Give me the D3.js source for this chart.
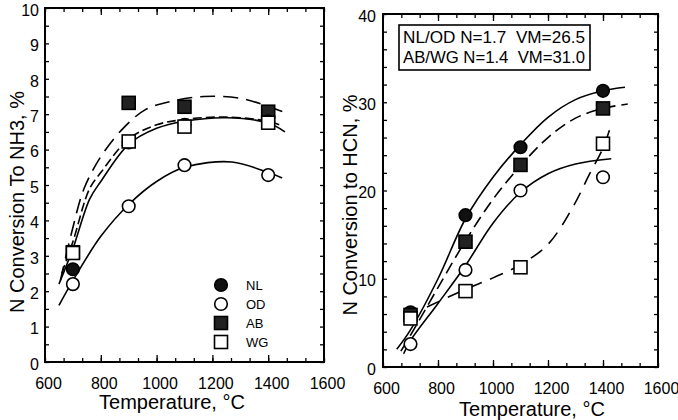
<!DOCTYPE html>
<html>
<head>
<meta charset="utf-8">
<script src="https://cdn.jsdelivr.net/npm/d3@7"></script>
<style>
  body { margin: 0; background: #fff; }
  text { font-family: "Liberation Sans", Arial, sans-serif; fill: #000; }
</style>
</head>
<body>
<script>
// sample temperatures, degC
var temps = [700, 900, 1100, 1400];

// left panel: N conversion to NH3, %
var nh3NL = [2.62, 6.2, 6.7, 6.8];
var nh3OD = [2.2, 4.4, 5.56, 5.28];
var nh3AB = [3.1, 7.32, 7.21, 7.07];
var nh3WG = [3.08, 6.23, 6.65, 6.76];

// right panel: N conversion to HCN, %
var hcnNL = [6.2, 17.2, 24.9, 31.3];
var hcnOD = [2.6, 11.0, 20.0, 21.5];
var hcnAB = [5.9, 14.2, 22.9, 29.3];
var hcnWG = [5.5, 8.6, 11.3, 25.3];

// hand drawn fit curves as [temp, value]
var nh3CurveOD = [[650,1.6],[700,2.3],[800,3.55],[900,4.45],[1000,5.1],[1100,5.5],[1270,5.65],[1400,5.35],[1450,5.2]];
var nh3CurveNL = [[650,2.2],[700,3.2],[760,4.6],[800,5.1],[900,6.15],[1000,6.6],[1100,6.8],[1250,6.9],[1400,6.75],[1460,6.5]];
var nh3CurveWG = [[660,2.5],[700,3.4],[760,4.9],[800,5.35],[900,6.3],[1000,6.7],[1100,6.85],[1250,6.92],[1400,6.8],[1440,6.7]];
var nh3CurveAB = [[655,2.3],[700,3.8],[740,4.9],[800,5.8],[880,6.6],[960,7.13],[1050,7.36],[1170,7.5],[1300,7.45],[1400,7.22],[1465,7.03]];

var hcnCurveNL = [[650,2.0],[700,4.2],[800,10.0],[900,16.8],[1000,21.5],[1100,25.2],[1200,28.3],[1300,30.3],[1400,31.3],[1480,31.7]];
var hcnCurveAB = [[665,1.8],[700,3.6],[800,9.0],[900,14.3],[1000,19.0],[1100,22.8],[1200,26.0],[1300,28.2],[1400,29.3],[1490,29.8]];
var hcnCurveOD = [[675,1.5],[700,3.0],[800,7.2],[900,11.5],[1000,16.3],[1100,19.8],[1200,21.9],[1300,23.0],[1430,23.6]];
var hcnCurveWG = [[760,6.8],[900,8.8],[1000,10.1],[1100,11.6],[1200,13.9],[1290,18.1],[1350,21.8],[1400,24.8],[1425,27.0]];

var xTicks = [600, 800, 1000, 1200, 1400, 1600];
var nh3Ticks = [0,1,2,3,4,5,6,7,8,9,10];
var hcnTicks = [0,10,20,30,40];

var legendNames = ["NL", "OD", "AB", "WG"];
var noteLines = ["NL/OD N=1.7  VM=26.5", "AB/WG N=1.4  VM=31.0"];

var svg = d3.select("body").append("svg")
    .attr("width", 678)
    .attr("height", 420);

var line = function(x, y){
  return d3.line()
    .x(function(d){ return x(d[0]); })
    .y(function(d){ return y(d[1]); })
    .curve(d3.curveCatmullRom.alpha(0.5));
};

function drawMarker(g, kind, cx, cy){
  if(kind == "NL" || kind == "OD"){
    g.append("circle").attr("cx", cx).attr("cy", cy).attr("r", 6.3)
      .attr("fill", kind == "NL" ? "#111" : "#fff")
      .attr("stroke", "#000").attr("stroke-width", 1.6);
  } else {
    g.append("rect").attr("x", cx-6.5).attr("y", cy-6.5)
      .attr("width", 13).attr("height", 13)
      .attr("fill", kind == "AB" ? "#222" : "#fff")
      .attr("stroke", "#000").attr("stroke-width", 1.6);
  }
}

function panel(opt){
  var x = d3.scaleLinear().domain([600, 1600]).range(opt.xr);
  var y = d3.scaleLinear().domain([0, opt.ymax]).range(opt.yr);
  var g = svg.append("g");

  // minor ticks, inward on all four sides
  var xMinor = d3.range(600, 1601, 200/3);
  var yMinor = d3.range(0, opt.ymax + 0.001, opt.yMinor);
  var sides = [
    [d3.axisBottom(x).tickValues(xMinor), "translate(0," + opt.yr[0] + ")"],
    [d3.axisTop(x).tickValues(xMinor), "translate(0," + opt.yr[1] + ")"],
    [d3.axisLeft(y).tickValues(yMinor), "translate(" + opt.xr[0] + ",0)"],
    [d3.axisRight(y).tickValues(yMinor), "translate(" + opt.xr[1] + ",0)"]
  ];
  sides.forEach(function(s){
    var a = g.append("g").attr("transform", s[1])
      .call(s[0].tickSize(-4).tickFormat(""));
    a.select(".domain").remove();
    a.selectAll("line").attr("stroke-width", 1.3);
  });
  var majorX = [
    [d3.axisBottom(x).tickValues(xTicks.slice(1, 5)), "translate(0," + opt.yr[0] + ")"],
    [d3.axisTop(x).tickValues(xTicks.slice(1, 5)), "translate(0," + opt.yr[1] + ")"]
  ];
  majorX.forEach(function(s){
    var a = g.append("g").attr("transform", s[1])
      .call(s[0].tickSize(-7).tickFormat(""));
    a.select(".domain").remove();
    a.selectAll("line").attr("stroke-width", 1.3);
  });

  // tick labels
  var xl = g.append("g").attr("transform", "translate(0," + opt.yr[0] + ")")
    .call(d3.axisBottom(x).tickValues(xTicks).tickSize(0).tickPadding(16).tickFormat(d3.format("d")));
  xl.select(".domain").remove();
  xl.selectAll("text").attr("font-size", 16).attr("dx", 3).attr("font-family", null);
  var yl = g.append("g").attr("transform", "translate(" + opt.xr[0] + ",0)")
    .call(d3.axisLeft(y).tickValues(opt.yTicks).tickSize(0).tickPadding(opt.yPad));
  yl.select(".domain").remove();
  yl.selectAll("text").attr("font-size", 16).attr("dy", "0.45em").attr("font-family", null);

  // frame
  g.append("rect")
    .attr("x", opt.xr[0]).attr("y", opt.yr[1])
    .attr("width", opt.xr[1] - opt.xr[0]).attr("height", opt.yr[0] - opt.yr[1])
    .attr("fill", "none").attr("stroke", "#000").attr("stroke-width", 2);

  // fitted curves
  var mk = line(x, y);
  opt.curves.forEach(function(c){
    g.append("path").attr("d", mk(c.pts))
      .attr("fill", "none").attr("stroke", "#000").attr("stroke-width", 1.6)
      .attr("stroke-dasharray", c.dash);
  });

  // markers (drawn in order so open squares sit on top)
  opt.series.forEach(function(s){
    temps.forEach(function(t, i){
      drawMarker(g, s.name, x(t), y(s.vals[i]));
    });
  });

  // axis titles
  g.append("text")
    .attr("x", opt.titleX[0]).attr("y", opt.titleX[1])
    .attr("text-anchor", "middle").attr("font-size", 20)
    .text("Temperature, \u00b0C");
  g.append("text")
    .attr("transform", "translate(" + opt.titleY[0] + "," + opt.titleY[1] + ") rotate(-90)")
    .attr("text-anchor", "middle").attr("dy", "0.35em").attr("font-size", 20)
    .text(opt.yTitle);

  return {x: x, y: y, g: g};
}

var left = panel({
  xr: [45, 324], yr: [362, 8], ymax: 10, yMinor: 0.5, yTicks: nh3Ticks, yPad: 6,
  curves: [
    {pts: nh3CurveOD, dash: null},
    {pts: nh3CurveNL, dash: null},
    {pts: nh3CurveWG, dash: "9,4"},
    {pts: nh3CurveAB, dash: "15,8"}
  ],
  series: [
    {name: "AB", vals: nh3AB},
    {name: "NL", vals: nh3NL},
    {name: "WG", vals: nh3WG},
    {name: "OD", vals: nh3OD}
  ],
  titleX: [172, 409], titleY: [17, 202], yTitle: "N Conversion To NH3, %"
});

var right = panel({
  xr: [383, 658], yr: [367, 14], ymax: 40, yMinor: 2, yTicks: hcnTicks, yPad: 7,
  curves: [
    {pts: hcnCurveNL, dash: null},
    {pts: hcnCurveOD, dash: null},
    {pts: hcnCurveAB, dash: "12,6"},
    {pts: hcnCurveWG, dash: "14,9"}
  ],
  series: [
    {name: "NL", vals: hcnNL},
    {name: "AB", vals: hcnAB},
    {name: "WG", vals: hcnWG},
    {name: "OD", vals: hcnOD}
  ],
  titleX: [532, 416], titleY: [350, 205], yTitle: "N Conversion to HCN, %"
});

// legend, left panel
var leg = left.g.append("g");
legendNames.forEach(function(n, i){
  var ly = 285 + i * 19;
  drawMarker(leg, n, 221, ly);
  leg.append("text").attr("x", 246).attr("y", ly).attr("dy", "0.35em")
    .attr("font-size", 13).text(n);
});

// note box, right panel
var note = right.g.append("g");
note.append("rect").attr("x", 399).attr("y", 25).attr("width", 191).attr("height", 45)
  .attr("fill", "#fff").attr("stroke", "#000").attr("stroke-width", 1.6);
noteLines.forEach(function(t, i){
  note.append("text").attr("x", 403).attr("y", 37 + i * 20).attr("dy", "0.35em")
    .attr("font-size", 16).attr("textLength", 182).attr("lengthAdjust", "spacingAndGlyphs")
    .style("white-space", "pre").text(t);
});
</script>
</body>
</html>
